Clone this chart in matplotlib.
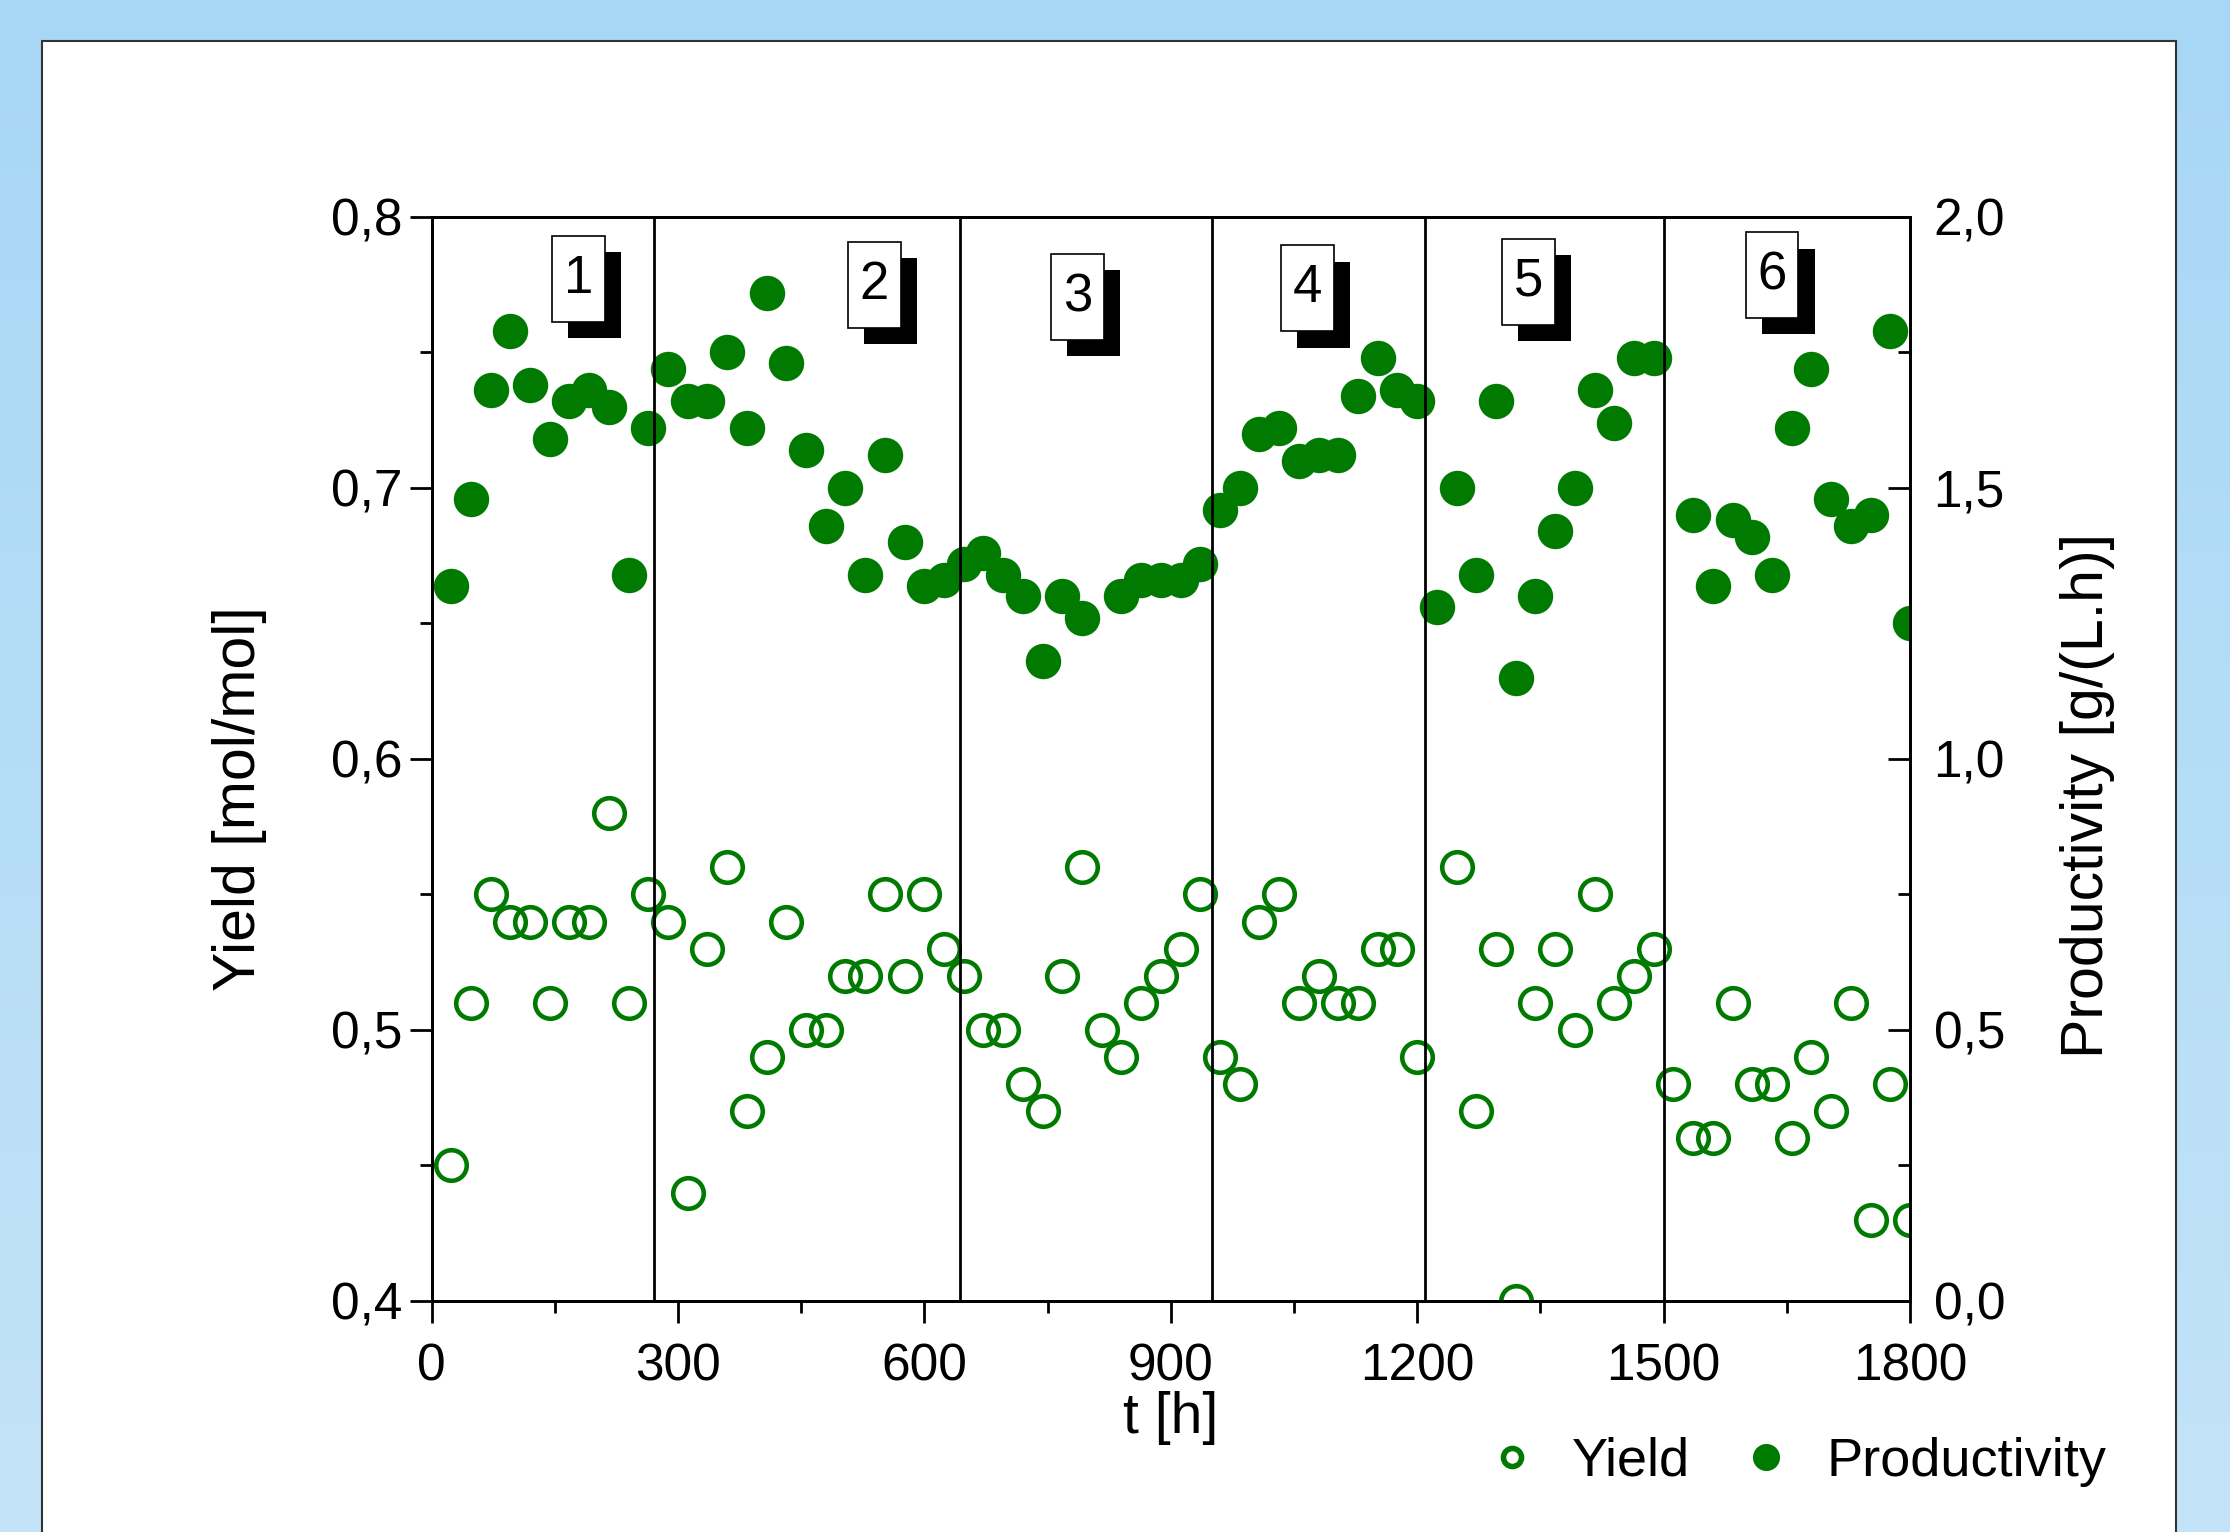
import numpy as np
import matplotlib
matplotlib.use('Agg')
import matplotlib.pyplot as plt
import matplotlib.transforms as mtransforms
from matplotlib.patches import Rectangle
from matplotlib.lines import Line2D
from matplotlib.ticker import MultipleLocator, FuncFormatter
from matplotlib.colors import LinearSegmentedColormap

plt.rcParams['font.family'] = ['Liberation Sans', 'DejaVu Sans']

# yield [mol/mol] (open circles, left axis)
t_yield = [24, 48, 72, 96, 120, 144, 168, 192, 216, 240, 264, 288, 312, 336, 360, 384,
           408, 432, 456, 480, 504, 528, 552, 576, 600, 624, 648, 672, 696, 720, 744,
           768, 792, 816, 840, 864, 888, 912, 936, 960, 984, 1008, 1032, 1056, 1080,
           1104, 1128, 1152, 1176, 1200, 1248, 1272, 1296, 1320, 1344, 1368, 1392,
           1416, 1440, 1464, 1488, 1512, 1536, 1560, 1584, 1608, 1632, 1656, 1680,
           1704, 1728, 1752, 1776, 1800]
yield_vals = [0.45, 0.51, 0.55, 0.54, 0.54, 0.51, 0.54, 0.54, 0.58, 0.51, 0.55, 0.54,
              0.44, 0.53, 0.56, 0.47, 0.49, 0.54, 0.50, 0.50, 0.52, 0.52, 0.55, 0.52,
              0.55, 0.53, 0.52, 0.50, 0.50, 0.48, 0.47, 0.52, 0.56, 0.50, 0.49, 0.51,
              0.52, 0.53, 0.55, 0.49, 0.48, 0.54, 0.55, 0.51, 0.52, 0.51, 0.51, 0.53,
              0.53, 0.49, 0.56, 0.47, 0.53, 0.40, 0.51, 0.53, 0.50, 0.55, 0.51, 0.52,
              0.53, 0.48, 0.46, 0.46, 0.51, 0.48, 0.48, 0.46, 0.49, 0.47, 0.51, 0.43,
              0.48, 0.43]

# productivity [g/(L.h)] (filled circles, right axis)
t_prod = [24, 48, 72, 96, 120, 144, 168, 192, 216, 240, 264, 288, 312, 336, 360, 384,
          408, 432, 456, 480, 504, 528, 552, 576, 600, 624, 648, 672, 696, 720, 744,
          768, 792, 840, 864, 888, 912, 936, 960, 984, 1008, 1032, 1056, 1080, 1104,
          1128, 1152, 1176, 1200, 1224, 1248, 1272, 1296, 1320, 1344, 1368, 1392,
          1416, 1440, 1464, 1488, 1536, 1560, 1584, 1608, 1632, 1656, 1680, 1704,
          1728, 1752, 1776, 1800]
prod_vals = [1.32, 1.48, 1.68, 1.79, 1.69, 1.59, 1.66, 1.68, 1.65, 1.34, 1.61, 1.72,
             1.66, 1.66, 1.75, 1.61, 1.86, 1.73, 1.57, 1.43, 1.50, 1.34, 1.56, 1.40,
             1.32, 1.33, 1.36, 1.38, 1.34, 1.30, 1.18, 1.30, 1.26, 1.30, 1.33, 1.33,
             1.33, 1.36, 1.46, 1.50, 1.60, 1.61, 1.55, 1.56, 1.56, 1.67, 1.74, 1.68,
             1.66, 1.28, 1.50, 1.34, 1.66, 1.15, 1.30, 1.42, 1.50, 1.68, 1.62, 1.74,
             1.74, 1.45, 1.32, 1.44, 1.41, 1.34, 1.61, 1.72, 1.48, 1.43, 1.45, 1.79,
             1.25]

# phase boundaries and phase numbers
phase_ends = [271, 644, 950, 1209, 1500]
phase_names = ['1', '2', '3', '4', '5', '6']
phase_label_t = [179, 539, 787, 1067, 1336, 1632]
phase_label_y = [0.943, 0.937, 0.926, 0.934, 0.940, 0.946]

green = '#007a00'

fig = plt.figure(figsize=(22.30, 15.32), dpi=100)

# light blue background with white panel
bg = fig.add_axes([0, 0, 1, 1], zorder=-10)
cmap = LinearSegmentedColormap.from_list('bg', ['#a7d7f5', '#c3e3f8'])
bg.imshow(np.linspace(0, 1, 256).reshape(-1, 1), aspect='auto', cmap=cmap,
          extent=[0, 1, 0, 1])
bg.axis('off')
fig.add_artist(Rectangle((0.0188, -0.01), 0.9570, 0.9832, transform=fig.transFigure,
                         facecolor='white', edgecolor='#333333', lw=1.5, zorder=-5))

ax = fig.add_axes([0.1935, 0.1508, 0.6630, 0.7076])
ax2 = ax.twinx()

ax.plot(t_yield, yield_vals, ls='none', marker='o', ms=22, mfc='none', mec=green, mew=3.3)
ax2.plot(t_prod, prod_vals, ls='none', marker='o', ms=25.5, mfc=green, mec='none')

for t in phase_ends:
    ax2.axvline(t, color='black', lw=2, zorder=4)

# numbered boxes with a drop shadow
bt = mtransforms.blended_transform_factory(ax2.transData, ax2.transAxes)
bw, bh = 64.5, 0.0793
for name, tx, ty in zip(phase_names, phase_label_t, phase_label_y):
    ax2.add_patch(Rectangle((tx - bw / 2 + 19.5, ty - bh / 2 - 0.0148), bw, bh,
                            transform=bt, facecolor='black', edgecolor='none', zorder=5))
    ax2.add_patch(Rectangle((tx - bw / 2, ty - bh / 2), bw, bh, transform=bt,
                            facecolor='white', edgecolor='black', lw=1.2, zorder=6))
    ax2.text(tx, ty, name, transform=bt, ha='center', va='center', fontsize=38, zorder=7)

ax.set_xlim(0, 1800)
ax.set_ylim(0.4, 0.8)
ax2.set_ylim(0, 2.0)

comma = FuncFormatter(lambda v, p: f'{v:.1f}'.replace('.', ','))
ax.xaxis.set_major_locator(MultipleLocator(300))
ax.xaxis.set_minor_locator(MultipleLocator(150))
ax.yaxis.set_major_locator(MultipleLocator(0.1))
ax.yaxis.set_minor_locator(MultipleLocator(0.05))
ax.yaxis.set_major_formatter(comma)
ax2.yaxis.set_major_locator(MultipleLocator(0.5))
ax2.yaxis.set_minor_locator(MultipleLocator(0.25))
ax2.yaxis.set_major_formatter(comma)

ax.tick_params(axis='both', which='major', direction='out', length=16, width=2,
               labelsize=37)
ax.tick_params(axis='both', which='minor', direction='out', length=8.5, width=2)
ax.tick_params(axis='x', pad=14)
ax.tick_params(axis='y', pad=5)
ax2.tick_params(axis='y', which='major', direction='in', length=16, width=2,
                labelsize=37, pad=17)
ax2.tick_params(axis='y', which='minor', direction='in', length=8.5, width=2)

for a in (ax, ax2):
    for s in a.spines.values():
        s.set_linewidth(2)

ax.set_xlabel('t [h]', fontsize=41)
ax.xaxis.set_label_coords(0.5, -0.083)
ax.set_ylabel('Yield [mol/mol]', fontsize=42.5)
ax.yaxis.set_label_coords(-0.111, 0.463)
ax2.set_ylabel('Productivity [g/(L.h)]', fontsize=42.5)
ax2.yaxis.set_label_coords(1.1015, 0.466)

handles = [Line2D([], [], ls='none', marker='o', ms=13, mfc='none', mec=green, mew=4),
           Line2D([], [], ls='none', marker='o', ms=19.5, mfc=green, mec='none')]
fig.legend(handles, ['Yield', 'Productivity'], loc='center left',
           bbox_to_anchor=(1485 / 2230, 1 - 1462 / 1532), ncol=2, frameon=False,
           fontsize=39, handlelength=1.0, handletextpad=0.61, columnspacing=0.9,
           borderpad=0, borderaxespad=0)

fig.savefig('out.png', dpi=100)
